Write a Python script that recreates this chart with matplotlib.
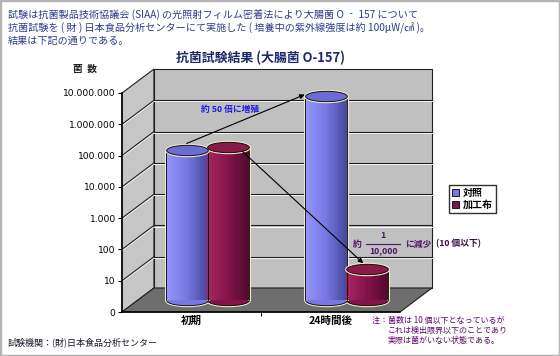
import matplotlib.pyplot as plt
import numpy as np
from matplotlib.patches import Polygon, Rectangle, Patch, ConnectionPatch
from matplotlib.path import Path
from matplotlib.transforms import Affine2D, ScaledTranslation
from matplotlib.colors import LinearSegmentedColormap
from matplotlib.ticker import NullLocator

plt.rcParams['font.family'] = ['Noto Sans CJK JP', 'DejaVu Sans']

# data
categories = ['初期', '24時間後']
series = ['対照', '加工布']
control = [63000, 3200000]
treated = [76000, 10]
y_ticks = [1, 10, 100, 1000, 10000, 100000, 1000000, 10000000]
y_ticklabels = ['0', '10', '100', '1.000', '10.000', '100.000', '1.000.000', '10.000.000']

W, H = 560, 356
fig = plt.figure(figsize=(5.6, 3.56), dpi=100)
fig.patch.set_facecolor('white')


def fx(x):
    return x / W


def fy(y):
    return 1 - y / H


# front plane of the 3d box
ax = fig.add_axes([fx(122), fy(312), fx(400) - fx(122), fy(93) - fy(312)])
ax.set_yscale('log')
ax.set_ylim(1, 1e7)
ax.set_xlim(-0.5, 1.5)
ax.patch.set_visible(False)
for s in ax.spines.values():
    s.set_visible(False)
ax.set_yticks(y_ticks)
ax.set_yticklabels(y_ticklabels, family='DejaVu Sans', fontsize=6.6, color='black')
ax.yaxis.set_minor_locator(NullLocator())
ax.set_xticks(range(len(categories)))
ax.set_xticklabels(categories, fontsize=7.6, fontweight='bold')
ax.set_xticks([0.5], minor=True)
ax.tick_params(axis='x', which='major', length=0, pad=3)
ax.tick_params(axis='x', which='minor', length=3, width=0.8)
ax.tick_params(axis='y', length=3, width=0.8, pad=1.5)

DX, DY = 32, 24  # depth offset in pixels
axw = (fx(400) - fx(122)) * W
axh = (fy(93) - fy(312)) * H
dxa, dya = DX / axw, DY / axh


def shift(d):
    return ScaledTranslation(DX * d / fig.dpi, DY * d / fig.dpi, fig.dpi_scale_trans)


# walls
side = Polygon([(0, 0), (0, 1), (dxa, 1 + dya), (dxa, dya)], closed=True,
               transform=ax.transAxes, fc='#c6c6c6', ec='#202020', lw=0.8, clip_on=False, zorder=0)
back = Rectangle((dxa, dya), 1, 1, transform=ax.transAxes, fc='#c0c0c0', ec='#202020',
                 lw=0.8, clip_on=False, zorder=0)
floor = Polygon([(0, 0), (1, 0), (1 + dxa, dya), (dxa, dya)], closed=True,
                transform=ax.transAxes, fc='#6e6e6e', ec='#202020', lw=0.8, clip_on=False, zorder=1)
for p in (side, back, floor):
    ax.add_patch(p)

ytr = ax.get_yaxis_transform()
hl = ScaledTranslation(0, -1.2 / fig.dpi, fig.dpi_scale_trans)
for v in y_ticks[1:-1]:
    ax.plot([0, 1], [v, v], color='white', lw=0.7, transform=ytr + shift(1) + hl, clip_on=False, zorder=0.5)
    ax.plot([0, 1], [v, v], color='#1e1e1e', lw=0.8, transform=ytr + shift(1), clip_on=False, zorder=0.6)
    ax.add_artist(ConnectionPatch((0, v), (0, v), coordsA=ytr + hl, coordsB=ytr + shift(1) + hl,
                                  color='white', lw=0.7, zorder=0.5))
    ax.add_artist(ConnectionPatch((0, v), (0, v), coordsA=ytr, coordsB=ytr + shift(1),
                                  color='#1e1e1e', lw=0.8, zorder=0.6))
ax.plot([0, 0], [0, 1], color='black', lw=1.1, transform=ax.transAxes, clip_on=False, zorder=2)
ax.plot([0, 1], [0, 0], color='black', lw=1.1, transform=ax.transAxes, clip_on=False, zorder=2)

# cylinders
mid = ax.transData + shift(0.5)
x = np.arange(len(categories))
bw = 0.3
ell = Path(Affine2D().scale(1, 0.25).transform(Path.unit_circle().vertices), Path.unit_circle().codes)
ms = bw * axw / 2 * 72 / fig.dpi
glow = '#eeeac4'
styles = [
    (control, -0.15, ['#9494fc', '#7878e2', '#4a4aa2'], '#6c6cd4'),
    (treated, 0.15, ['#a82460', '#82144a', '#520a2c'], '#8a1a4a'),
]
for vals, off, shades, cap in styles:
    xs = x + off
    vals = np.array(vals, dtype=float)
    ax.plot(xs, np.ones_like(vals), ls='none', marker=ell, ms=ms, mfc=shades[1], mec=glow,
            mew=2.2, transform=mid, clip_on=False, zorder=3)
    ax.plot(xs, np.ones_like(vals), ls='none', marker=ell, ms=ms, mfc=shades[1], mec='black',
            mew=0.6, transform=mid, clip_on=False, zorder=3.1)
    for e in (-bw / 2, bw / 2):
        ax.vlines(xs + e, 1, vals, color=glow, lw=2.2, transform=mid, clip_on=False, zorder=3.2)
    cmap = LinearSegmentedColormap.from_list('c', shades)
    n = 18
    for k in range(n):
        sx = xs - bw / 2 + (k + 0.5) * bw / n
        bars = ax.bar(sx, vals - 1, bottom=1, width=bw / n * 1.05, color=cmap(k / (n - 1)), lw=0, zorder=4)
        for b in bars:
            b.set_transform(mid)
            b.set_clip_on(False)
    for e in (-bw / 2, bw / 2):
        ax.vlines(xs + e, 1, vals, color='black', lw=0.6, transform=mid, clip_on=False, zorder=5)
    ax.plot(xs, vals, ls='none', marker=ell, ms=ms, mfc=cap, mec=glow, mew=2.2,
            transform=mid, clip_on=False, zorder=5.5)
    ax.plot(xs, vals, ls='none', marker=ell, ms=ms, mfc=cap, mec='black', mew=0.6,
            transform=mid, clip_on=False, zorder=6)

# arrows
arw = dict(arrowstyle='-|>', color='black', lw=0.8, mutation_scale=7, shrinkA=0, shrinkB=0)
ax.annotate('', xy=(x[1] - 0.3, control[1] * 1.15), xycoords=mid,
            xytext=(x[0] - 0.15, control[0] * 1.6), textcoords=mid, arrowprops=arw, zorder=8)
ax.annotate('', xy=(x[1] + 0.12, treated[1] * 1.5), xycoords=mid,
            xytext=(x[0] + 0.25, treated[0] * 0.75), textcoords=mid, arrowprops=arw, zorder=8)

# texts
hdr = '#2a3c8c'
fig.text(fx(8), fy(15), '試験は抗菌製品技術協議会 (SIAA) の光照射フィルム密着法により大腸菌 O ‐ 157 について',
         fontsize=7.25, color=hdr, va='center')
fig.text(fx(8), fy(28), '抗菌試験を ( 財 ) 日本食品分析センターにて実施した ( 培養中の紫外線強度は約 100μW/㎠ )。',
         fontsize=7.25, color=hdr, va='center')
fig.text(fx(8), fy(41), '結果は下記の通りである。', fontsize=7.25, color=hdr, va='center')
fig.text(fx(261), fy(58), '抗菌試験結果 (大腸菌 O-157)', fontsize=9.3, fontweight='bold',
         color='#1f2a6b', ha='center', va='center')
fig.text(fx(85), fy(69), '菌  数', fontsize=7, fontweight='bold', color='#222222', ha='center', va='center')

fig.text(fx(230), fy(109), '約 50 倍に増殖', fontsize=6.3, fontweight='bold', color='#1c1ce8',
         ha='center', va='center')

pur = '#4e1464'
fig.text(fx(357), fy(244), '約', fontsize=6.3, fontweight='bold', color=pur, ha='center', va='center')
fig.text(fx(383), fy(236), '1', fontsize=6.3, fontweight='bold', color=pur, ha='center', va='center')
fig.add_artist(plt.Line2D([fx(366), fx(400)], [fy(244), fy(244)], color=pur, lw=0.8))
fig.text(fx(383), fy(251), '10,000', fontsize=6.3, fontweight='bold', color=pur, ha='center', va='center')
fig.text(fx(405), fy(244), 'に減少', fontsize=6.3, fontweight='bold', color=pur, va='center')
fig.text(fx(436), fy(244), '(10 個以下)', fontsize=6.3, fontweight='bold', color='#3a1048', va='center')

note = '#5a0a6a'
fig.text(fx(372), fy(320), '注：菌数は 10 個以下となっているが', fontsize=5.8, color=note, va='center')
fig.text(fx(388), fy(330), 'これは検出限界以下のことであり', fontsize=5.8, color=note, va='center')
fig.text(fx(388), fy(340), '実際は菌がいない状態である。', fontsize=5.8, color=note, va='center')

fig.text(fx(8), fy(342), '試験機関：(財)日本食品分析センター', fontsize=6.5, color='#1a1a2a', va='center')

# legend
handles = [Patch(fc=styles[0][2][1], ec='black', lw=0.6), Patch(fc=styles[1][2][1], ec='black', lw=0.6)]
fig.legend(handles, series, loc='upper left', bbox_to_anchor=(fx(449), fy(185)), frameon=True,
           fancybox=False, edgecolor='#303030', framealpha=1, prop=dict(weight='bold', size=7.2),
           handlelength=0.7, handleheight=0.7, handletextpad=0.4, borderpad=0.3, labelspacing=0.2,
           borderaxespad=0)

fig.add_artist(Rectangle((0, 0), 1, 1, transform=fig.transFigure, fill=False, ec='#b4b4b4', lw=2.5))

fig.savefig('out.png', dpi=100)
